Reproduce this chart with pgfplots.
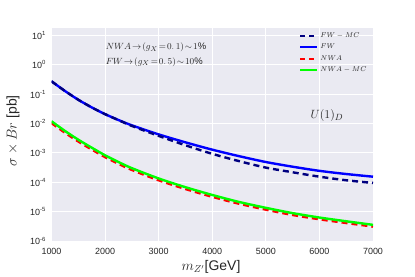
\documentclass[border=0pt]{standalone}
\usepackage{pgfplots}
\pgfplotsset{compat=1.18}
\usepackage{fontspec}
\setmainfont{Liberation Sans}
\definecolor{bgc}{HTML}{EAEAF2}
\definecolor{txt}{HTML}{262626}
\definecolor{fwmc}{HTML}{000080}
\definecolor{fw}{HTML}{0000FF}
\definecolor{nwa}{HTML}{FF0000}
\definecolor{nwamc}{HTML}{00FF00}
\pgfplotstableread{
m fwmc fw nwa nwamc
1000 0.275 0.275 0.0104 0.0120
1250 0.129 0.129 4.89e-3 5.62e-3
1500 0.0646 0.0646 2.45e-3 2.82e-3
1750 0.0355 0.0355 1.31e-3 1.51e-3
2000 0.0209 0.0209 7.2e-4 8.3e-4
2250 0.0131 0.0132 4.26e-4 4.9e-4
2500 8.3e-3 8.7e-3 2.63e-4 3.02e-4
3000 3.8e-3 4.27e-3 1.17e-4 1.35e-4
3500 1.82e-3 2.29e-3 5.9e-5 6.8e-5
4000 9.3e-4 1.29e-3 3.2e-5 3.7e-5
4500 5.25e-4 7.76e-4 1.86e-5 2.14e-5
5000 3.16e-4 4.9e-4 1.17e-5 1.35e-5
5500 2.19e-4 3.39e-4 7.7e-6 8.9e-6
6000 1.55e-4 2.45e-4 5.5e-6 6.3e-6
6500 1.17e-4 1.91e-4 4.1e-6 4.7e-6
7000 9.5e-5 1.55e-4 3.1e-6 3.55e-6
}\data
\begin{document}
\begin{tikzpicture}[x=1bp,y=1bp]
\useasboundingbox (0,0) rectangle (415,277);
\begin{axis}[
  at={(51.5bp,36bp)}, anchor=south west,
  scale only axis, width=321.5bp, height=212.6bp,
  xmin=1000, xmax=7000, ymode=log, ymin=1e-6, ymax=17.4,
  axis background/.style={fill=bgc},
  axis line style={draw=none},
  grid=major, major grid style={white, line width=0.9bp},
  tick style={draw=none}, minor tick num=0,
  xtick={1000,2000,3000,4000,5000,6000,7000},
  xticklabels={1000,2000,3000,4000,5000,6000,7000},
  ytick={1e-6,1e-5,1e-4,1e-3,1e-2,1e-1,1,10},
  yticklabels={10\textsuperscript{-6},10\textsuperscript{-5},10\textsuperscript{-4},10\textsuperscript{-3},10\textsuperscript{-2},10\textsuperscript{-1},10\textsuperscript{0},10\textsuperscript{1}},
  ticklabel style={font=\fontsize{9}{10}\selectfont, text=txt},
  xticklabel style={yshift=-4bp},
  yticklabel style={xshift=-2bp},
  legend style={draw=none, fill=none, at={(rel axis cs:0.77,0.99)}, anchor=north west,
    font=\fontsize{7.5}{8.5}\selectfont, text=txt, row sep=1.2bp, inner sep=0pt},
  legend cell align=left,
]
\addlegendimage{fwmc, line width=2.2bp, dash pattern=on 5bp off 4bp}
\addlegendentry{$FW-MC$}
\addlegendimage{fw, line width=2.2bp}
\addlegendentry{$FW$}
\addlegendimage{nwa, line width=2.2bp, dash pattern=on 5bp off 4bp}
\addlegendentry{$NWA$}
\addlegendimage{nwamc, line width=2.2bp}
\addlegendentry{$NWA-MC$}
\addplot[fw, line width=2.4bp, smooth, forget plot] table[x=m, y=fw] {\data};
\addplot[fwmc, line width=2.4bp, smooth, dash pattern=on 6bp off 4bp, forget plot] table[x=m, y=fwmc] {\data};
\addplot[nwa, line width=2.4bp, smooth, dash pattern=on 6bp off 4bp, forget plot] table[x=m, y=nwa] {\data};
\addplot[nwamc, line width=2.4bp, smooth, forget plot] table[x=m, y=nwamc] {\data};
\node[anchor=west, font=\fontsize{9.5}{10}\selectfont, text=txt, inner sep=0pt] at (axis cs:2010,4.0) {$NWA\!\rightarrow\!(g_X\!=\!0.\,1)\!\sim\!1\%$};
\node[anchor=west, font=\fontsize{9.5}{10}\selectfont, text=txt, inner sep=0pt] at (axis cs:2010,1.25) {$FW\!\rightarrow\!(g_X\!=\!0.\,5)\!\sim\!10\%$};
\node[font=\fontsize{13}{14}\selectfont, text=txt] at (axis cs:6140,0.019) {$U(1)_D$};
\end{axis}
\node[rotate=90, font=\fontsize{14}{16}\selectfont, text=txt] at (13,146) {$\sigma\times Br$ [pb]};
\node[font=\fontsize{14}{16}\selectfont, text=txt] at (211,10.5) {$m_{Z'}$[GeV]};
\end{tikzpicture}
\end{document}
